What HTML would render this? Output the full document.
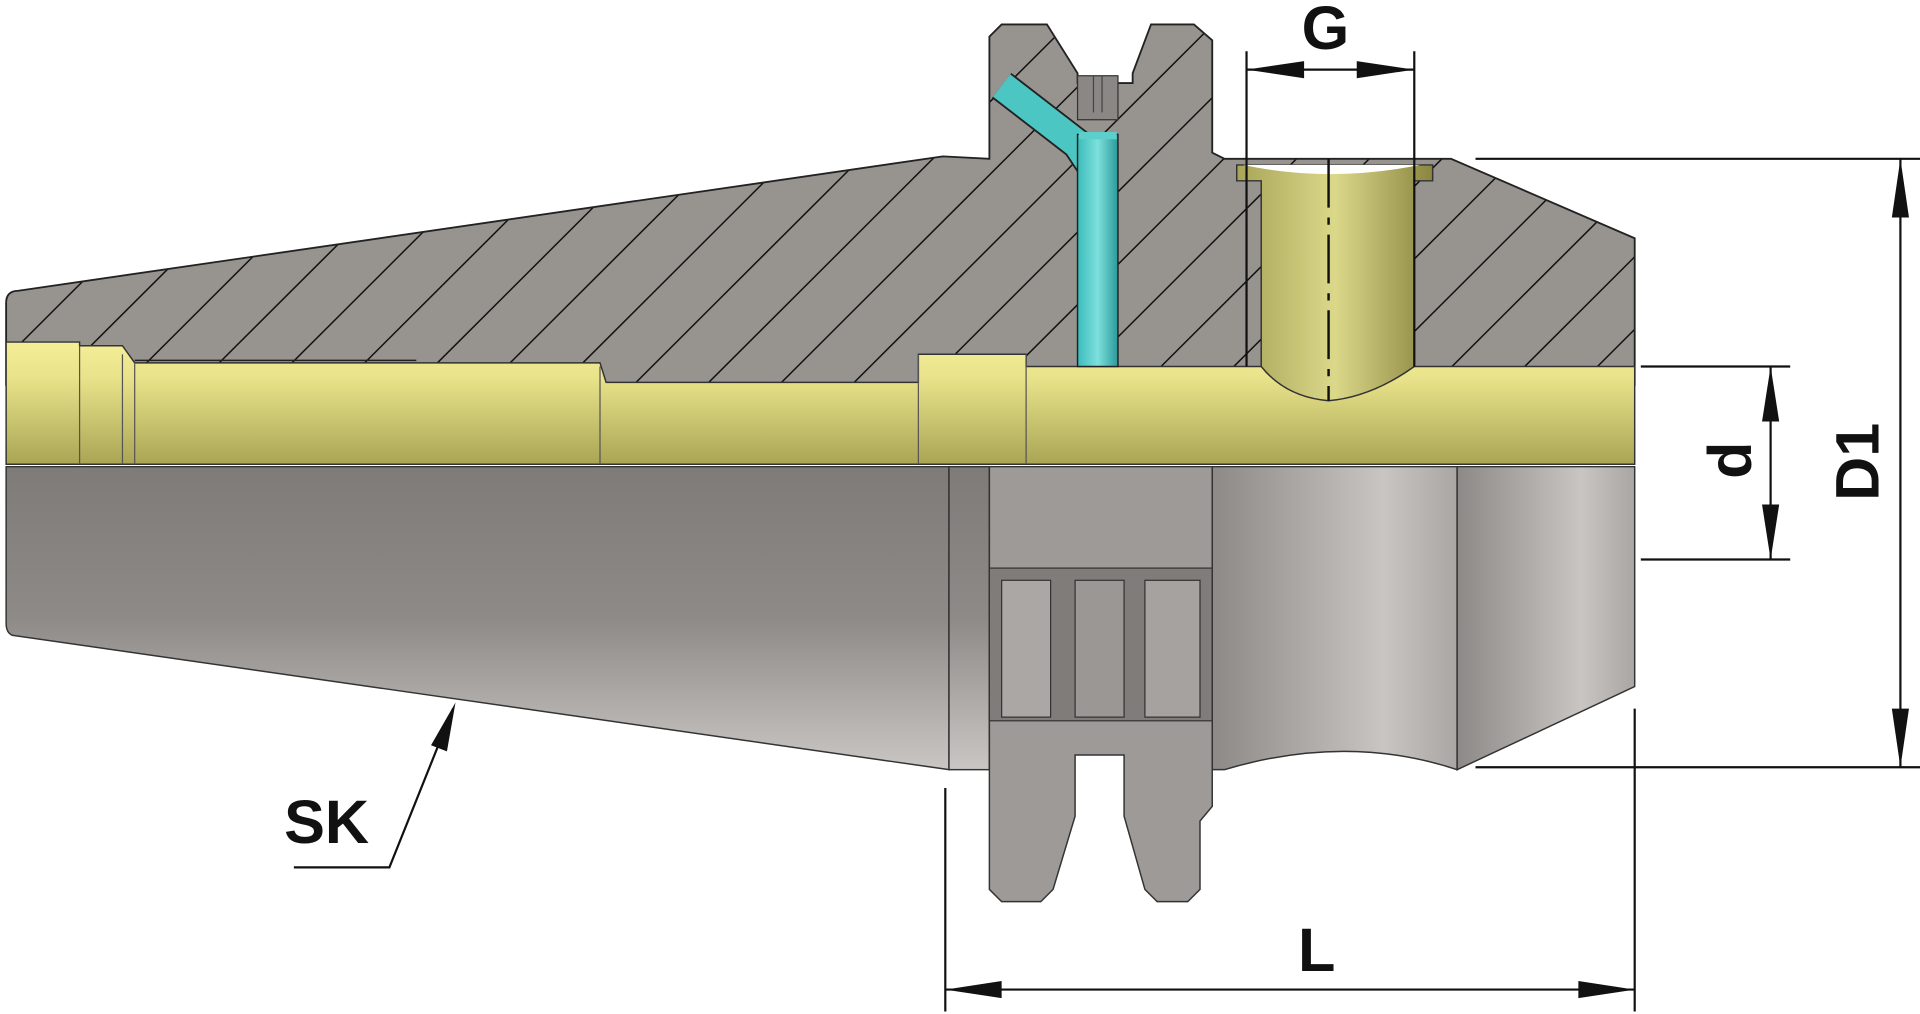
<!DOCTYPE html>
<html><head><meta charset="utf-8"><style>html,body{margin:0;padding:0;background:#fff;overflow:hidden}svg{display:block}</style></head>
<body>
<svg width="1920" height="1014" viewBox="0 0 1568 830" preserveAspectRatio="none" xmlns="http://www.w3.org/2000/svg">
<defs>
<pattern id="h" patternUnits="userSpaceOnUse" width="42" height="42" patternTransform="rotate(-45)">
<rect width="42" height="42" fill="#97938f"/><line x1="0" y1="0" x2="42" y2="0" stroke="#111" stroke-width="2.4"/>
</pattern>
<linearGradient id="gy" x1="0" y1="0" x2="0" y2="1"><stop offset="0" stop-color="#f4ee98"/><stop offset="0.3" stop-color="#e8e28a"/><stop offset="1" stop-color="#a9a554"/></linearGradient>
<linearGradient id="gs" x1="0" y1="0" x2="0" y2="1"><stop offset="0" stop-color="#7e7b78"/><stop offset="0.5" stop-color="#8e8a87"/><stop offset="1" stop-color="#c9c6c3"/></linearGradient>
<linearGradient id="gs2" x1="0" y1="0" x2="1" y2="0"><stop offset="0" stop-color="#8d8986"/><stop offset="0.7" stop-color="#c8c5c2"/><stop offset="1" stop-color="#a9a6a3"/></linearGradient>
<linearGradient id="gc" x1="0" y1="0" x2="1" y2="0"><stop offset="0" stop-color="#3bbcbc"/><stop offset="0.5" stop-color="#7ee0dc"/><stop offset="1" stop-color="#2a9a9a"/></linearGradient>
<linearGradient id="go" x1="0" y1="0" x2="1" y2="0"><stop offset="0" stop-color="#a8a458"/><stop offset="0.5" stop-color="#dcd88a"/><stop offset="1" stop-color="#8a8640"/></linearGradient>
</defs>
<!-- upper section -->
<path d="M5,248 Q5,238 15,238 L770,128 L808,130 L808,30 L818,20 L855,20 L880,60 L880,68 L925,68 L925,60 L940,20 L975,20 L990,33 L990,125 L1000,130 L1185,130 L1335,195 L1335,315 L5,315 Z" fill="url(#h)" stroke="#222" stroke-width="1.5"/>
<!-- lower exterior -->
<path d="M5,382 L775,382 L775,630 L10,520 Q5,518 5,510 Z" fill="url(#gs)" stroke="#333" stroke-width="1.2"/>
<rect x="775" y="382" width="33" height="248" fill="url(#gs)" stroke="#333" stroke-width="1.2"/>
<path d="M808,382 L990,382 L990,660 L980,672 L980,728 L970,738 L945,738 L935,728 L918,668 L918,618 L878,618 L878,668 L860,728 L850,738 L818,738 L808,728 Z" fill="#9e9a97" stroke="#333" stroke-width="1.2"/>
<rect x="808" y="465" width="182" height="125" fill="#7f7c79" stroke="#333"/>
<rect x="818" y="475" width="40" height="112" fill="#aaa7a4" stroke="#333"/>
<rect x="878" y="475" width="40" height="112" fill="#9a9794" stroke="#333"/>
<rect x="935" y="475" width="45" height="112" fill="#a5a29f" stroke="#333"/>
<path d="M990,382 L1190,382 L1190,630 Q1100,600 1000,630 L990,630 Z" fill="url(#gs2)" stroke="#333" stroke-width="1.2"/>
<path d="M1190,382 L1335,382 L1335,562 L1190,630 Z" fill="url(#gs2)" stroke="#333" stroke-width="1.2"/>
<!-- bore yellow -->
<path d="M5,280 L65,280 L65,283 L100,283 L110,297 L490,297 L495,313 L750,313 L750,290 L838,290 L838,300 L1335,300 L1335,380 L5,380 Z" fill="url(#gy)" stroke="#333" stroke-width="1.2"/>
<line x1="65" y1="283" x2="65" y2="380" stroke="#555"/><line x1="100" y1="290" x2="100" y2="380" stroke="#555"/>
<line x1="110" y1="297" x2="110" y2="380" stroke="#555"/><line x1="490" y1="300" x2="490" y2="380" stroke="#555"/>
<line x1="750" y1="290" x2="750" y2="380" stroke="#555"/><line x1="838" y1="290" x2="838" y2="380" stroke="#555"/>
<line x1="110" y1="295" x2="340" y2="295" stroke="#222" stroke-width="1.2"/>
<!-- coolant -->
<polyline points="818,70 880,118 898,145" fill="none" stroke="#222" stroke-width="26" stroke-linejoin="round"/>
<polyline points="818,70 880,118 898,145" fill="none" stroke="#4cc6c3" stroke-width="23" stroke-linejoin="round"/>
<rect x="880" y="110" width="33" height="190" fill="url(#gc)" stroke="#222" stroke-width="1.2"/>
<rect x="881" y="108" width="31" height="6" fill="#5ccfcc"/>
<rect x="880" y="62" width="33" height="36" fill="#8a8784" stroke="#333"/>
<line x1="893" y1="62" x2="893" y2="92" stroke="#444"/><line x1="900" y1="62" x2="900" y2="92" stroke="#444"/>
<!-- screw -->
<path d="M1010,135 L1170,135 L1170,148 L1155,148 L1155,300 Q1120,325 1085,328 Q1050,325 1030,300 L1030,148 L1010,148 Z" fill="url(#go)" stroke="#333" stroke-width="1.2"/>
<path d="M1015,135 Q1085,150 1160,135" fill="#fff" stroke="none"/>
<line x1="1085" y1="130" x2="1085" y2="328" stroke="#111" stroke-width="2" stroke-dasharray="40,8,6,8"/>
<!-- dims -->
<g stroke="#111" stroke-width="1.8" fill="none">
<line x1="1018" y1="42" x2="1018" y2="300"/><line x1="1155" y1="42" x2="1155" y2="300"/>
<line x1="1018" y1="57" x2="1155" y2="57"/>
<line x1="1205" y1="130" x2="1568" y2="130"/><line x1="1205" y1="628" x2="1568" y2="628"/>
<line x1="1552" y1="130" x2="1552" y2="628"/>
<line x1="1340" y1="300" x2="1462" y2="300"/><line x1="1340" y1="458" x2="1462" y2="458"/>
<line x1="1446" y1="300" x2="1446" y2="458"/>
<line x1="772" y1="645" x2="772" y2="828"/><line x1="1335" y1="580" x2="1335" y2="828"/>
<line x1="772" y1="810" x2="1335" y2="810"/>
<polyline points="240,710 318,710 370,580"/>
</g>
<g fill="#111">
<polygon points="1018,57 1065,50 1065,64"/><polygon points="1155,57 1108,50 1108,64"/>
<polygon points="1552,130 1545,178 1559,178"/><polygon points="1552,628 1545,580 1559,580"/>
<polygon points="1446,300 1439,345 1453,345"/><polygon points="1446,458 1439,413 1453,413"/>
<polygon points="772,810 818,803 818,817"/><polygon points="1335,810 1289,803 1289,817"/>
<polygon points="372,575 352,610 365,615"/>
</g>
<g font-family="Liberation Sans, sans-serif" font-weight="bold" fill="#111" font-size="50">
<text x="1063" y="40">G</text>
<text x="1060" y="795">L</text>
<text x="232" y="690">SK</text>
<text transform="translate(1430,392) rotate(-90)">d</text>
<text transform="translate(1534,410) rotate(-90)">D1</text>
</g>
</svg>
</body></html>
